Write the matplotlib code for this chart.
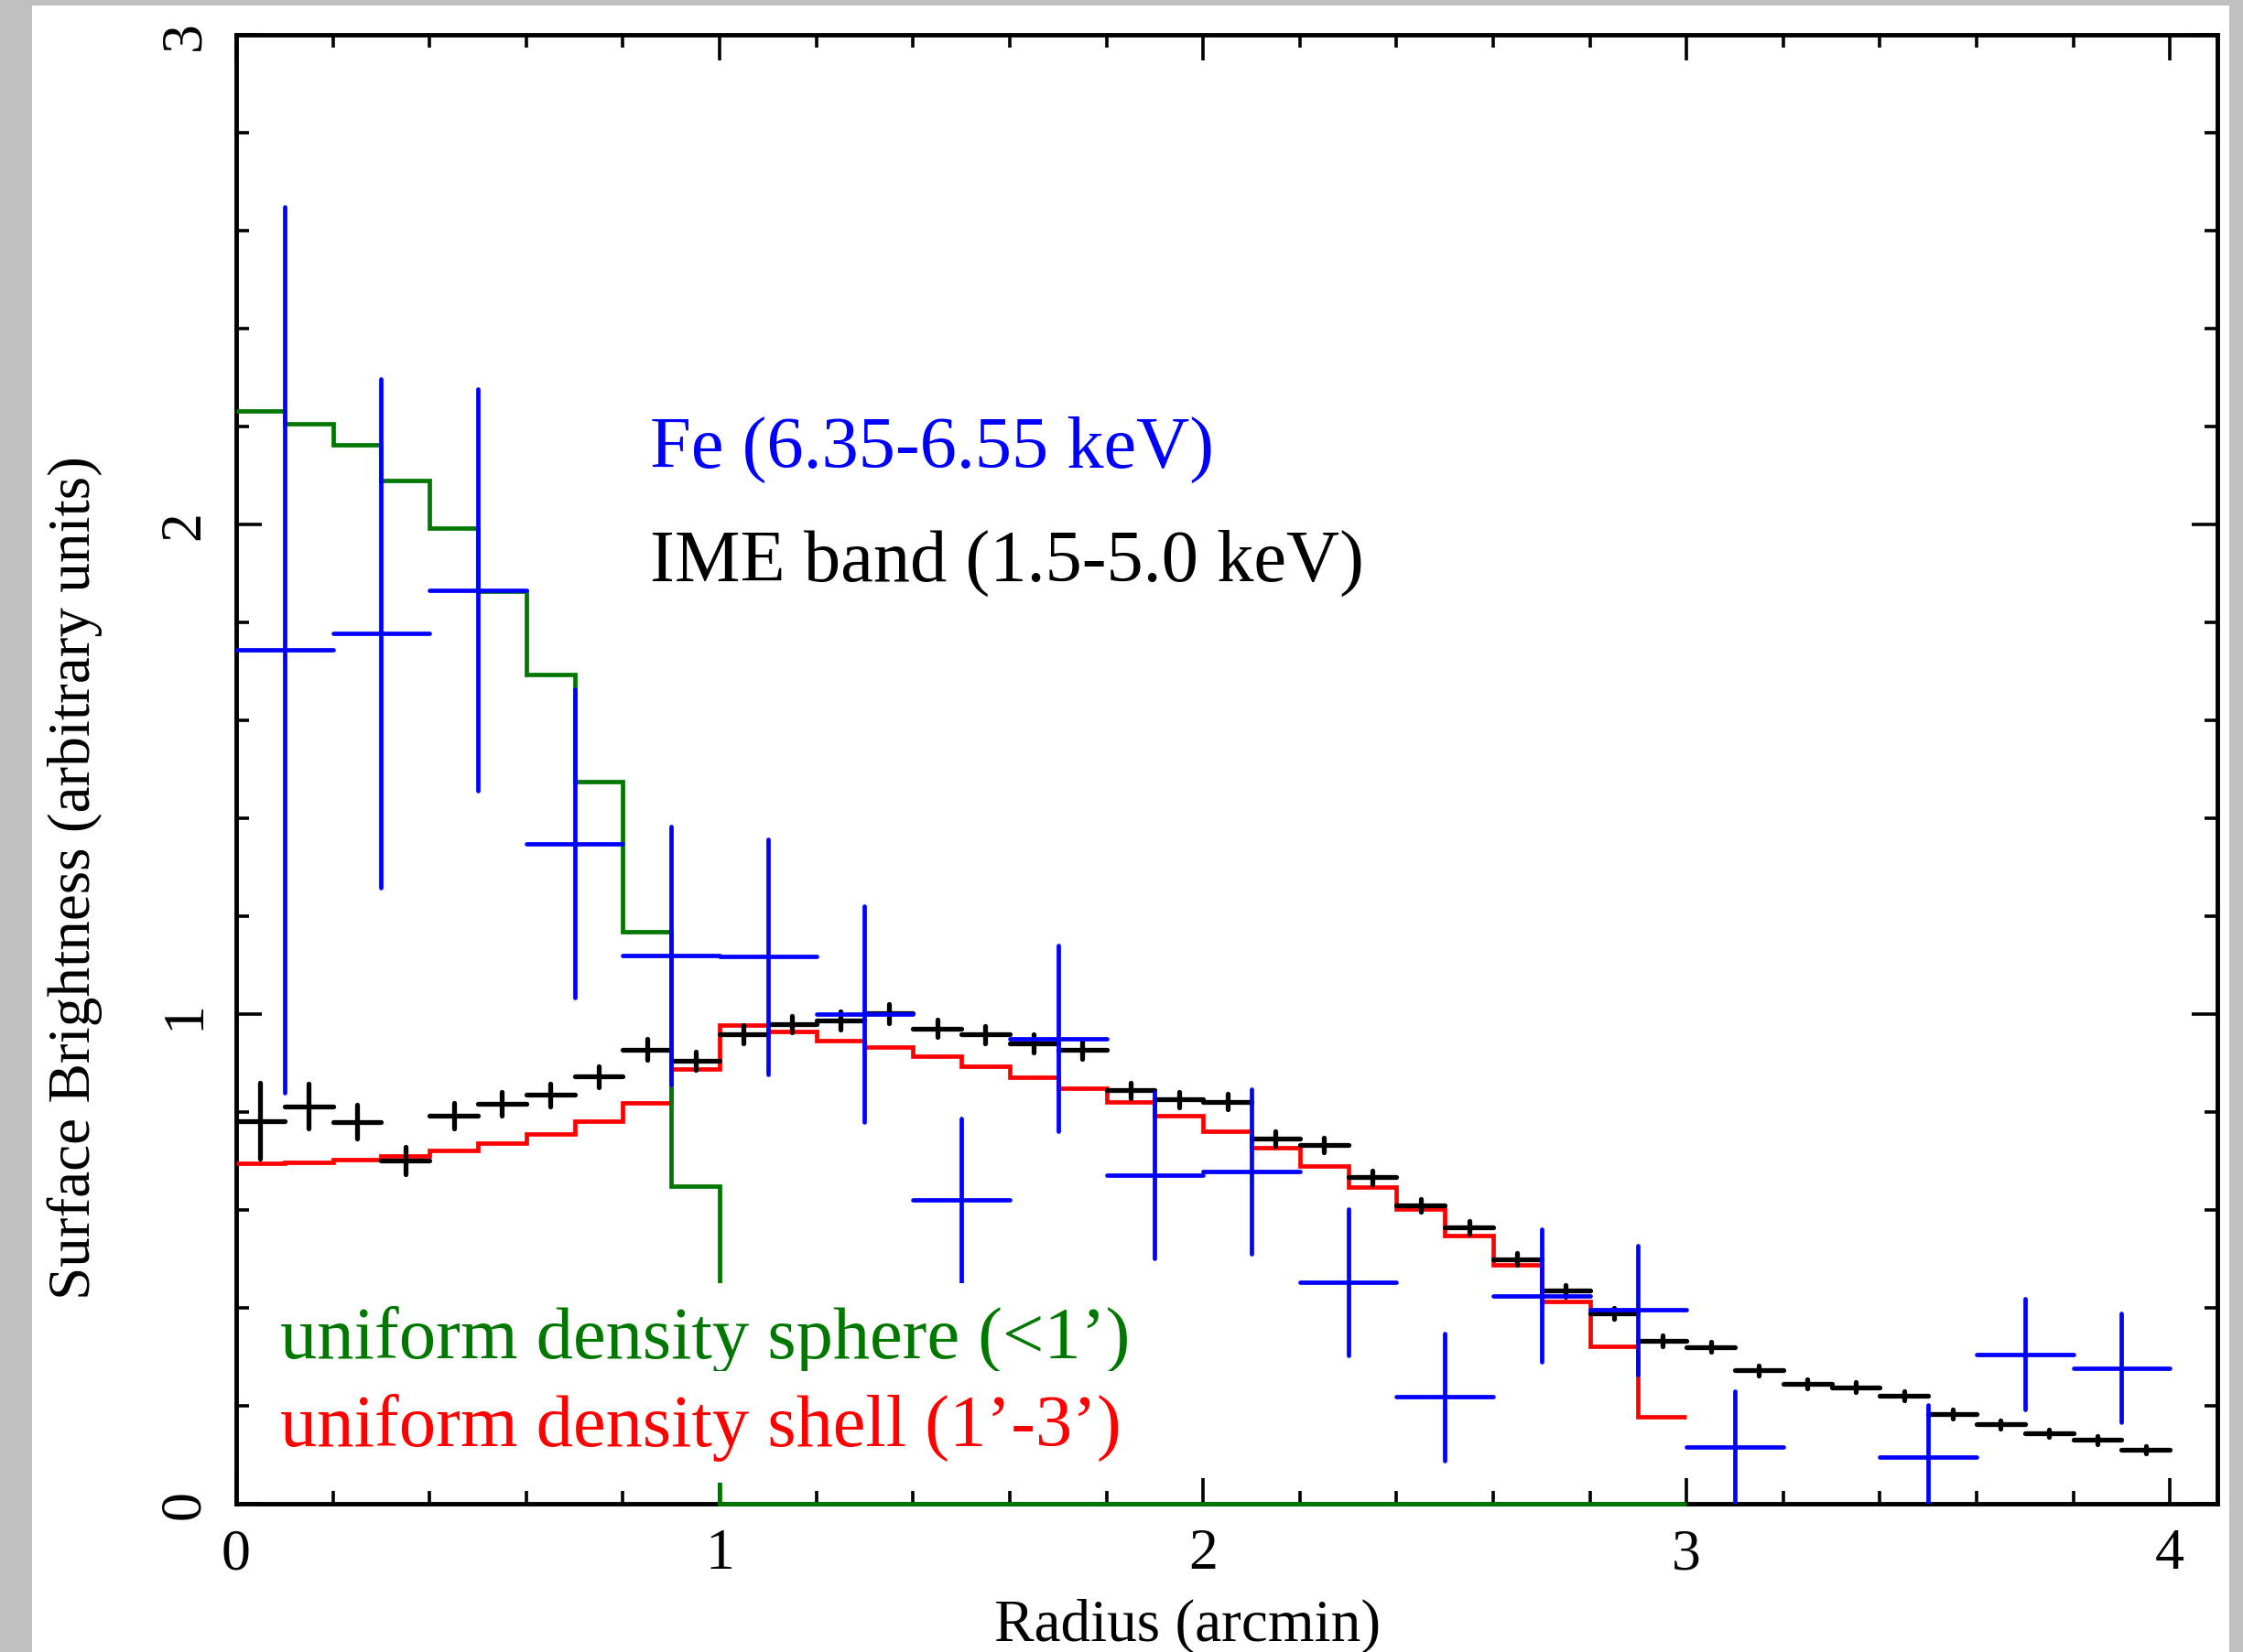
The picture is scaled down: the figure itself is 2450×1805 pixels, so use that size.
import numpy as np
import matplotlib
matplotlib.use("Agg")
import matplotlib.pyplot as plt
from matplotlib.patches import Rectangle
from matplotlib.ticker import MultipleLocator

plt.rcParams["font.family"] = ["Liberation Serif", "DejaVu Serif"]

# IME band (1.5-5.0 keV) profile, 0.1' bins
ime_r = [0.05, 0.15, 0.25, 0.35, 0.45, 0.55, 0.65, 0.75, 0.85, 0.95,
         1.05, 1.15, 1.25, 1.35, 1.45, 1.55, 1.65, 1.75, 1.85, 1.95,
         2.05, 2.15, 2.25, 2.35, 2.45, 2.55, 2.65, 2.75, 2.85, 2.95,
         3.05, 3.15, 3.25, 3.35, 3.45, 3.55, 3.65, 3.75, 3.85, 3.95]
ime_sb = [0.782, 0.812, 0.780, 0.701, 0.792, 0.817, 0.835, 0.872, 0.928, 0.905,
          0.959, 0.980, 0.987, 1.001, 0.971, 0.958, 0.940, 0.927, 0.844, 0.826,
          0.821, 0.746, 0.732, 0.667, 0.609, 0.565, 0.500, 0.435, 0.389, 0.332,
          0.320, 0.272, 0.245, 0.238, 0.221, 0.183, 0.162, 0.144, 0.130, 0.110]
ime_err = [0.077, 0.046, 0.035, 0.028, 0.026, 0.024, 0.023, 0.022, 0.022, 0.019,
           0.018, 0.017, 0.018, 0.019, 0.018, 0.018, 0.018, 0.018, 0.016, 0.016,
           0.016, 0.015, 0.015, 0.014, 0.013, 0.013, 0.012, 0.012, 0.011, 0.011,
           0.010, 0.010, 0.010, 0.010, 0.009, 0.009, 0.009, 0.008, 0.008, 0.008]

# Fe (6.35-6.55 keV) profile, 0.2' bins
fe_r = [0.1, 0.3, 0.5, 0.7, 0.9, 1.1, 1.3, 1.5, 1.7, 1.9,
        2.1, 2.3, 2.5, 2.7, 2.9, 3.1, 3.5, 3.7, 3.9]
fe_sb = [1.744, 1.778, 1.866, 1.348, 1.120, 1.117, 1.000, 0.620, 0.950, 0.671,
         0.678, 0.452, 0.218, 0.425, 0.396, 0.115, 0.095, 0.305, 0.277]
fe_err = [0.904, 0.520, 0.410, 0.315, 0.264, 0.240, 0.220, 0.167, 0.190, 0.170,
          0.168, 0.150, 0.130, 0.136, 0.132, 0.114, 0.106, 0.113, 0.111]

# model profiles on 0.1' bins from 0 to 3'
model_edges = [0.0, 0.1, 0.2, 0.3, 0.4, 0.5, 0.6, 0.7, 0.8, 0.9, 1.0,
               1.1, 1.2, 1.3, 1.4, 1.5, 1.6, 1.7, 1.8, 1.9, 2.0,
               2.1, 2.2, 2.3, 2.4, 2.5, 2.6, 2.7, 2.8, 2.9, 3.0]
sphere = [2.231, 2.206, 2.163, 2.090, 1.992, 1.864, 1.694, 1.474, 1.169, 0.649,
          0.0, 0.0, 0.0, 0.0, 0.0, 0.0, 0.0, 0.0, 0.0, 0.0,
          0.0, 0.0, 0.0, 0.0, 0.0, 0.0, 0.0, 0.0, 0.0, 0.0]
shell = [0.696, 0.698, 0.702, 0.710, 0.721, 0.737, 0.755, 0.782, 0.819, 0.887,
         0.978, 0.964, 0.946, 0.932, 0.914, 0.893, 0.871, 0.848, 0.821, 0.793,
         0.760, 0.727, 0.690, 0.646, 0.601, 0.548, 0.488, 0.414, 0.322, 0.178]

W, H = 2450, 1806
fig = plt.figure(figsize=(W / 100, H / 100), dpi=100)
fig.patch.set_facecolor("#c0c0c0")
fig.patches.append(Rectangle((35 / W, 0), 2400 / W, (H - 7) / H,
                             transform=fig.transFigure, facecolor="white",
                             edgecolor="none", zorder=-10))

ax = fig.add_axes([258 / W, (H - 1644) / H, 2164 / W, 1605 / H])
ax.set_facecolor("white")

lw = 3.4
green = "#007800"
ax.stairs(shell, model_edges, baseline=None, color="red", lw=lw, zorder=3)
ax.stairs(sphere, model_edges, baseline=None, color=green, lw=lw, zorder=3,
          clip_on=False)
ime = ax.errorbar(ime_r, ime_sb, xerr=0.05, yerr=ime_err, fmt="none",
                  ecolor="black", elinewidth=lw + 0.4, capsize=0, zorder=4)
fe = ax.errorbar(fe_r, fe_sb, xerr=0.1, yerr=fe_err, fmt="none", ecolor="blue",
                 elinewidth=lw, capsize=0, zorder=5)
for eb in (ime, fe):
    for lc in eb[2]:
        lc.set_capstyle("round")

ax.set_xlim(0, 4.098)
ax.set_ylim(0, 3)
ax.xaxis.set_major_locator(MultipleLocator(1))
ax.xaxis.set_minor_locator(MultipleLocator(0.2))
ax.yaxis.set_major_locator(MultipleLocator(1))
ax.yaxis.set_minor_locator(MultipleLocator(0.2))
ax.tick_params(which="both", direction="in", top=True, right=True,
               width=2.6, labelsize=46, pad=19)
ax.tick_params(which="major", length=20)
ax.tick_params(which="minor", length=10)
ax.tick_params(axis="y", labelrotation=90)
for lab in ax.get_yticklabels():
    lab.set_va("center")
for s in ax.spines.values():
    s.set_linewidth(3.5)

ax.set_xlabel("Radius (arcmin)", fontsize=47, va="top")
ax.xaxis.set_label_coords(0.480, -0.064)
ax.set_ylabel("Surface Brightness (arbitrary units)", fontsize=47)
ax.yaxis.set_label_coords(-0.0675, 0.427)

ax.text(0.209, 0.706, "Fe (6.35-6.55 keV)", transform=ax.transAxes,
        color="blue", fontsize=58, va="baseline", zorder=6)
ax.text(0.209, 0.629, "IME band (1.5-5.0 keV)", transform=ax.transAxes,
        color="black", fontsize=58, va="baseline", zorder=6)
box = dict(boxstyle="square,pad=0.3", facecolor="white", edgecolor="none")
ax.text(0.022, 0.0997, "uniform density sphere (<1\u2019)", transform=ax.transAxes,
        color=green, fontsize=58, va="baseline", bbox=box, zorder=6)
ax.text(0.022, 0.0399, "uniform density shell (1\u2019-3\u2019)", transform=ax.transAxes,
        color="red", fontsize=58, va="baseline", bbox=box, zorder=6)

fig.savefig("out.png", dpi=100, facecolor=fig.get_facecolor())
